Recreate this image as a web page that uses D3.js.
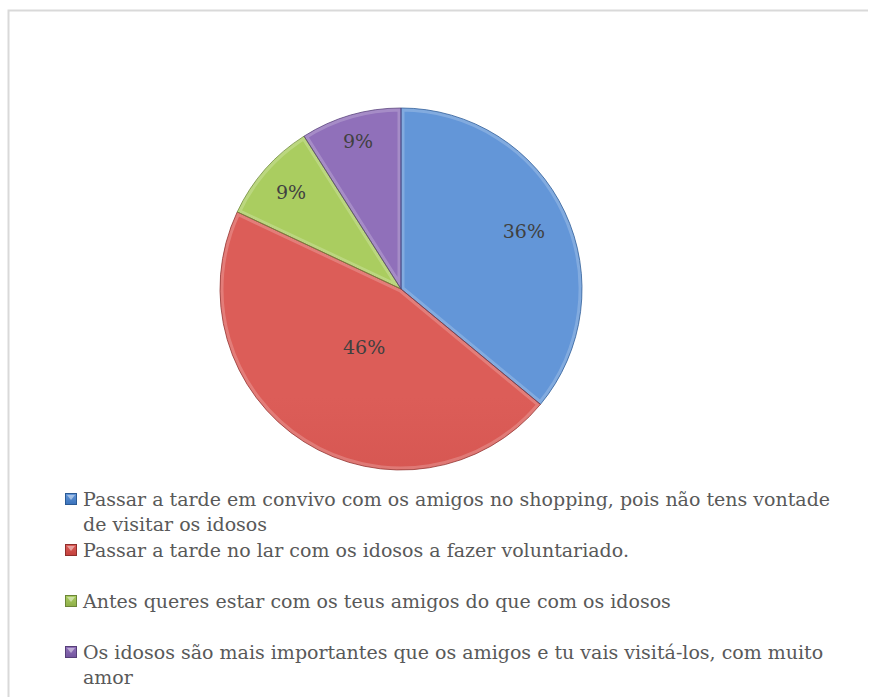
<!DOCTYPE html>
<html>
<head>
<meta charset="utf-8">
<script src="https://cdn.jsdelivr.net/npm/d3@7"></script>
<style>
  body { margin: 0; background: #fff; }
  svg { display: block; }
</style>
</head>
<body>
<svg width="869" height="697"></svg>
<script>
var categories = [
  'Passar a tarde em convivo com os amigos no shopping, pois não tens vontade de visitar os idosos',
  'Passar a tarde no lar com os idosos a fazer voluntariado.',
  'Antes queres estar com os teus amigos do que com os idosos',
  'Os idosos são mais importantes que os amigos e tu vais visitá-los, com muito amor'
];
var values = [36, 46, 9, 9];
var percentLabels = ['36%', '46%', '9%', '9%'];

// light / dark / edge shades per slice
var colorsLight = ['#6396d8', '#dc5d58', '#aacd60', '#9070ba'];
var colorsDark = ['#3a72bb', '#c3403c', '#8eae48', '#73559e'];
var colorsEdge = ['#2b5a94', '#8f2f2c', '#6c8538', '#563f78'];

// how far out along the mid angle each percent label sits (fraction of radius)
var labelRadius = [0.75, 0.38, 0.81, 0.85];

var FONT = 'DejaVu Serif';

var svg = d3.select('svg');
var width = +svg.attr('width');
var height = +svg.attr('height');

// chart area border
svg.append('path')
    .attr('d', 'M8.5,' + height + 'V10.5H' + (width - 1))
    .attr('fill', 'none')
    .attr('stroke', '#d9d9d9')
    .attr('stroke-width', 2);

var cx = 401, cy = 289, radius = 181;

var defs = svg.append('defs');

values.forEach(function(v, i) {
    var g = defs.append('linearGradient')
        .attr('id', 'grad' + i)
        .attr('gradientUnits', 'userSpaceOnUse')
        .attr('x1', 0).attr('y1', cy - radius)
        .attr('x2', 0).attr('y2', cy + radius);
    g.append('stop').attr('offset', '0%').attr('stop-color', colorsLight[i]);
    g.append('stop').attr('offset', '100%').attr('stop-color', colorsDark[i]);

    var lg = defs.append('linearGradient')
        .attr('id', 'lgrad' + i)
        .attr('x1', 0).attr('y1', 0).attr('x2', 0).attr('y2', 1);
    lg.append('stop').attr('offset', '0%').attr('stop-color', colorsLight[i]);
    lg.append('stop').attr('offset', '100%').attr('stop-color', colorsDark[i]);
});

var pie = d3.pie().sort(null).value(function(d) { return d; });
var arcs = pie(values);
var arc = d3.arc().innerRadius(0).outerRadius(radius);

var pieG = svg.append('g')
    .attr('transform', 'translate(' + cx + ',' + cy + ')');

arcs.forEach(function(d, i) {
    defs.append('clipPath').attr('id', 'clip' + i)
        .append('path').attr('d', arc(d));
});

pieG.selectAll('.slice')
    .data(arcs)
    .enter()
    .append('path')
    .attr('class', 'slice')
    .attr('d', arc)
    .attr('fill', function(d, i) { return 'url(#grad' + i + ')'; });

// soft bevel: light inner rim clipped to each slice
pieG.selectAll('.rim')
    .data(arcs)
    .enter()
    .append('path')
    .attr('class', 'rim')
    .attr('d', arc)
    .attr('fill', 'none')
    .attr('stroke', '#ffffff')
    .attr('stroke-opacity', 0.2)
    .attr('stroke-width', 7)
    .attr('clip-path', function(d, i) { return 'url(#clip' + i + ')'; });

pieG.selectAll('.edge')
    .data(arcs)
    .enter()
    .append('path')
    .attr('class', 'edge')
    .attr('d', arc)
    .attr('fill', 'none')
    .attr('stroke', function(d, i) { return colorsEdge[i]; })
    .attr('stroke-opacity', 0.75)
    .attr('stroke-width', 1);

pieG.selectAll('.pct')
    .data(arcs)
    .enter()
    .append('text')
    .attr('class', 'pct')
    .attr('transform', function(d, i) {
        var a = (d.startAngle + d.endAngle) / 2;
        var r = radius * labelRadius[i];
        return 'translate(' + (Math.sin(a) * r) + ',' + (-Math.cos(a) * r) + ')';
    })
    .attr('text-anchor', 'middle')
    .attr('dy', '0.35em')
    .attr('font-family', FONT)
    .attr('font-size', 19)
    .attr('fill', '#404040')
    .text(function(d, i) { return percentLabels[i]; });

// legend
var legendX = 65, textX = 83, firstBaseline = 506, rowH = 51, lineH = 25, maxW = 748;

var legend = svg.append('g').attr('class', 'legend');

categories.forEach(function(label, i) {
    var y = firstBaseline + i * rowH;

    var m = legend.append('g');
    m.append('rect')
        .attr('x', legendX + 0.5).attr('y', y - 12.5)
        .attr('width', 11).attr('height', 11)
        .attr('fill', 'url(#lgrad' + i + ')')
        .attr('stroke', colorsEdge[i]);
    m.append('path')
        .attr('d', 'M' + (legendX + 2) + ',' + (y - 11) + 'L' + (legendX + 6) + ',' + (y - 6) + 'L' + (legendX + 10) + ',' + (y - 11) + 'Z')
        .attr('fill', '#fff')
        .attr('fill-opacity', 0.45);

    var t = legend.append('text')
        .attr('x', textX)
        .attr('y', y)
        .attr('font-family', FONT)
        .attr('font-size', 19)
        .attr('fill', '#595959');

    var words = label.split(' ');
    var line = [];
    var lineNo = 0;
    var tspan = t.append('tspan').attr('x', textX).attr('y', y);
    words.forEach(function(w) {
        line.push(w);
        tspan.text(line.join(' '));
        if (tspan.node().getComputedTextLength() > maxW && line.length > 1) {
            line.pop();
            tspan.text(line.join(' '));
            line = [w];
            lineNo++;
            tspan = t.append('tspan').attr('x', textX).attr('y', y + lineNo * lineH).text(w);
        }
    });
});
</script>
</body>
</html>
